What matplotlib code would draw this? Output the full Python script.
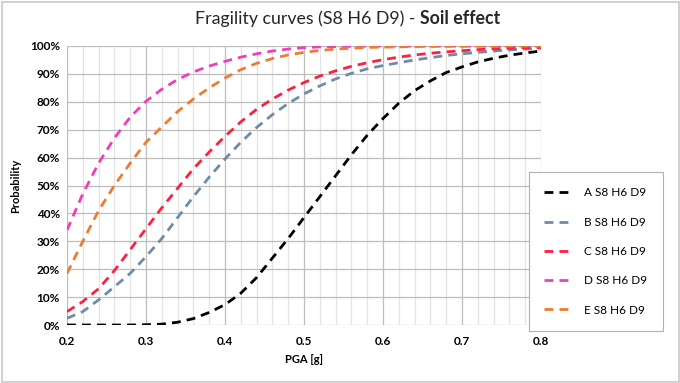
import matplotlib
matplotlib.use('Agg')
import matplotlib.pyplot as plt
from matplotlib.patches import Rectangle
from matplotlib.ticker import MultipleLocator

plt.rcParams['font.family'] = ['Lato', 'DejaVu Sans']

pga = [0.20, 0.22, 0.24, 0.26, 0.28, 0.30, 0.32, 0.34, 0.36, 0.38, 0.40,
       0.42, 0.44, 0.46, 0.48, 0.50, 0.52, 0.54, 0.56, 0.58, 0.60,
       0.62, 0.64, 0.66, 0.68, 0.70, 0.72, 0.74, 0.76, 0.78, 0.80]

soil_a = [0.0, 0.0, 0.0, 0.0, 0.0, 0.1, 0.3, 1.0, 2.3, 4.5, 7.3,
          11.4, 17.0, 24.0, 31.0, 38.5, 46.0, 53.5, 61.0, 68.0, 74.0,
          79.5, 84.0, 87.5, 90.5, 92.5, 94.3, 95.6, 96.7, 97.5, 98.2]
soil_b = [2.4, 4.8, 9.0, 13.7, 18.5, 24.5, 31.0, 38.5, 46.0, 53.0, 59.5,
          65.5, 70.8, 75.4, 79.4, 82.8, 85.7, 88.2, 90.2, 91.8, 93.0,
          94.0, 95.0, 95.8, 96.6, 97.2, 97.7, 98.2, 98.6, 98.9, 99.2]
soil_c = [4.8, 8.4, 13.0, 19.5, 27.0, 34.5, 42.0, 49.0, 56.0, 62.0, 67.6,
          72.8, 77.3, 81.0, 84.2, 86.9, 89.2, 91.1, 92.7, 94.0, 95.1,
          96.0, 96.8, 97.4, 97.9, 98.3, 98.7, 99.0, 99.2, 99.4, 99.5]
soil_d = [34.0, 47.0, 58.0, 67.0, 74.5, 80.2, 84.5, 88.0, 90.7, 92.8, 94.5,
          96.0, 97.2, 98.2, 98.9, 99.4, 99.7, 99.8, 99.9, 99.95, 100.0,
          100.0, 100.0, 100.0, 100.0, 100.0, 100.0, 100.0, 100.0, 100.0, 100.0]
soil_e = [18.5, 30.0, 41.0, 50.0, 58.0, 65.5, 71.0, 76.5, 81.0, 85.0, 88.5,
          91.5, 93.8, 95.5, 96.8, 97.7, 98.4, 98.9, 99.2, 99.5, 99.6,
          99.7, 99.8, 99.9, 99.9, 99.95, 100.0, 100.0, 100.0, 100.0, 100.0]

labels = ['A S8 H6 D9', 'B S8 H6 D9', 'C S8 H6 D9', 'D S8 H6 D9', 'E S8 H6 D9']
colors = ['#000000', '#6d8ca8', '#ff1f3f', '#f23db8', '#ee7b30']

x_ticks = [0.2, 0.3, 0.4, 0.5, 0.6, 0.7, 0.8]
x_tick_labels = ['0.2', '0.3', '0.4', '0.5', '0.6', '0.7', '0.8']
y_ticks = [0, 10, 20, 30, 40, 50, 60, 70, 80, 90, 100]
y_tick_labels = ['0%', '10%', '20%', '30%', '40%', '50%', '60%', '70%', '80%', '90%', '100%']

fig = plt.figure(figsize=(6.8, 3.83), dpi=100)
ax = fig.add_axes([67 / 680, 1 - 325 / 383, (541 - 67) / 680, (325 - 46) / 383])

for ys, lab, col in zip([soil_a, soil_b, soil_c, soil_d, soil_e], labels, colors):
    ax.plot(pga, ys, color=col, lw=2.0, dashes=(3.2, 2.2), label=lab)

ax.set_xlim(0.2, 0.8)
ax.set_ylim(0, 100)
ax.set_xticks(x_ticks, x_tick_labels, fontsize=8.5, fontweight='bold')
ax.set_yticks(y_ticks, y_tick_labels, fontsize=8.5, fontweight='bold')
ax.xaxis.set_minor_locator(MultipleLocator(0.02))
ax.grid(which='major', color='#bdbdbd', lw=0.9)
ax.grid(which='minor', axis='x', color='#e3e3e3', lw=0.9)
ax.set_axisbelow(True)
for s in ax.spines.values():
    s.set_visible(False)
ax.tick_params(which='both', length=0)
ax.tick_params(axis='y', pad=5)
ax.tick_params(axis='x', pad=8)

ax.set_xlabel('PGA [g]', fontsize=8, fontweight='bold', labelpad=5)
ax.set_ylabel('Probability', fontsize=8, fontweight='bold', labelpad=6)

fig.text(0.617, 1 - 19 / 383, 'Fragility curves (S8 H6 D9) - ', ha='right', va='center',
         fontsize=12.8, color='#262626')
fig.text(0.617, 1 - 19 / 383, 'Soil effect', ha='left', va='center',
         fontsize=12.8, fontweight='bold', color='#262626')

leg = ax.legend(loc='upper left', bbox_to_anchor=(529 / 680, 1 - 172 / 383),
                bbox_transform=fig.transFigure, fontsize=8.5, frameon=True,
                fancybox=False, edgecolor='#b0b0b0', framealpha=1,
                labelspacing=1.55, borderpad=1.3, handlelength=2.4,
                handletextpad=1.0, borderaxespad=0)
leg.get_frame().set_linewidth(0.8)

fig.patches.append(Rectangle((1.5 / 680, 1.5 / 383), 677 / 680, 380 / 383,
                             transform=fig.transFigure, fill=False,
                             edgecolor='#c8c8c8', lw=1.2))

fig.savefig('out.png', dpi=100, facecolor='white')
